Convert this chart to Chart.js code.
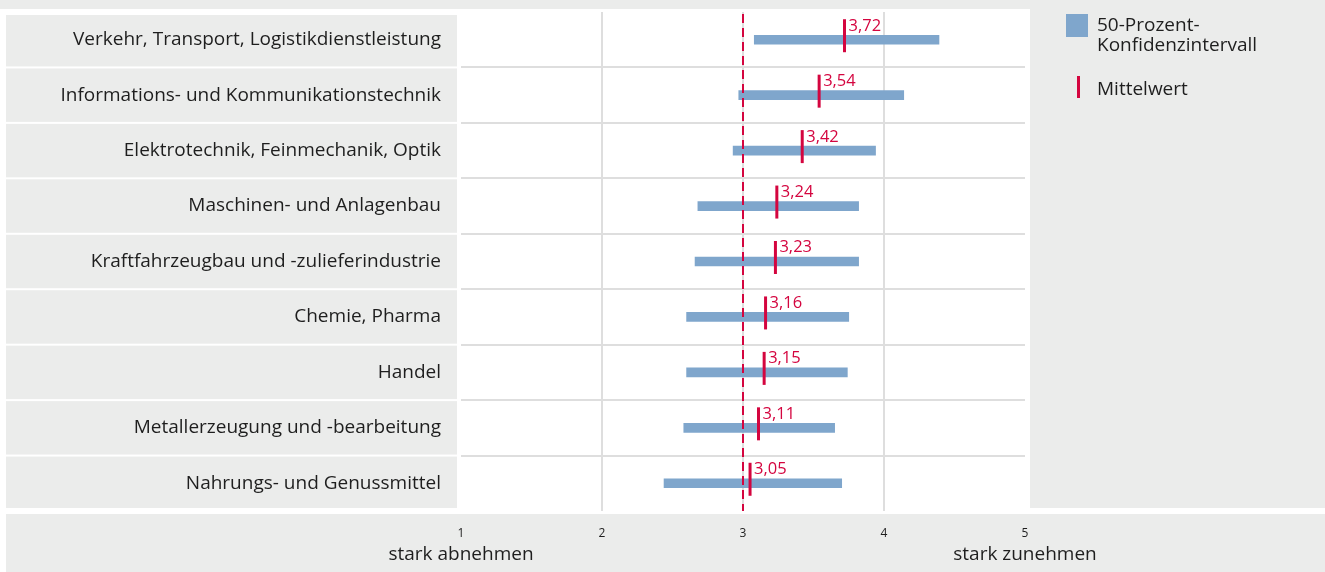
<!DOCTYPE html>
<html>
<head>
<meta charset="utf-8">
<script src="https://cdn.jsdelivr.net/npm/chart.js@4/dist/chart.umd.min.js"></script>
<style>
    html, body { margin: 0; padding: 0; background: #fff; }
    #wrap { position: relative; width: 1325px; height: 572px; font-family: "Open Sans", sans-serif; color: #1e1e1e; }
    #legend { position: absolute; left: 1066px; top: 14px; font-size: 19px; line-height: 20px; }
    .item { position: relative; padding-left: 31px; }
    .box { position: absolute; left: 0; top: 0; width: 22px; height: 23px; background: #7fa6cc; }
    .mean { position: absolute; left: 11px; top: -2px; width: 3px; height: 22px; background: #d4053f; }
</style>
</head>
<body>
<div id="wrap">
    <canvas id="chart" width="1325" height="572"></canvas>
    <div id="legend">
        <div class="item"><span class="box"></span>50-Prozent-<br>Konfidenzintervall</div>
        <div class="item" style="margin-top:24px"><span class="mean"></span>Mittelwert</div>
    </div>
</div>
<script>
const categories = [
    "Verkehr, Transport, Logistikdienstleistung",
    "Informations- und Kommunikationstechnik",
    "Elektrotechnik, Feinmechanik, Optik",
    "Maschinen- und Anlagenbau",
    "Kraftfahrzeugbau und -zulieferindustrie",
    "Chemie, Pharma",
    "Handel",
    "Metallerzeugung und -bearbeitung",
    "Nahrungs- und Genussmittel"
];
const means = [3.72, 3.54, 3.42, 3.24, 3.23, 3.16, 3.15, 3.11, 3.05];
const ciLow = [3.08, 2.97, 2.93, 2.68, 2.66, 2.60, 2.60, 2.58, 2.44];
const ciHigh = [4.39, 4.14, 3.94, 3.82, 3.82, 3.75, 3.74, 3.65, 3.70];
const xTicks = [1, 2, 3, 4, 5];
const endLabels = ["stark abnehmen", "stark zunehmen"];
const midValue = 3;

const RED = "#d4053f";
const GREY = "#ebeceb";

const panels = {
    id: "panels",
    beforeDraw(chart) {
        const ctx = chart.ctx, a = chart.chartArea, y = chart.scales.y;
        const W = chart.width, H = chart.height;
        ctx.save();
        ctx.fillStyle = "#fff";
        ctx.fillRect(0, 0, W, H);
        ctx.fillStyle = GREY;
        ctx.fillRect(0, 0, W, 9);
        ctx.fillRect(a.right + 5, 0, W - a.right - 5, 508);
        ctx.fillRect(6, 514, W - 6, H - 514);
        const rowH = (a.bottom - a.top) / categories.length;
        categories.forEach((c, i) => {
            const mid = y.getPixelForValue(i);
            const top = mid - rowH / 2 + (i === 0 ? 3 : 1);
            const bot = mid + rowH / 2 - (i === categories.length - 1 ? 3 : 1);
            ctx.fillRect(6, top, 451, bot - top);
        });
        ctx.restore();
    }
};

const marks = {
    id: "marks",
    afterDatasetsDraw(chart) {
        const ctx = chart.ctx, a = chart.chartArea;
        const x = chart.scales.x, y = chart.scales.y;
        ctx.save();
        // dashed reference line at the scale middle
        const mx = x.getPixelForValue(midValue);
        ctx.strokeStyle = RED;
        ctx.lineWidth = 2;
        ctx.setLineDash([9, 5]);
        ctx.beginPath();
        ctx.moveTo(mx, a.top + 2);
        ctx.lineTo(mx, a.bottom);
        ctx.stroke();
        ctx.setLineDash([]);

        // mean markers + labels
        ctx.lineWidth = 3;
        ctx.fillStyle = RED;
        ctx.font = '16.5px "Open Sans"';
        ctx.textBaseline = "top";
        ctx.textAlign = "left";
        means.forEach((m, i) => {
            const px = x.getPixelForValue(m);
            const py = y.getPixelForValue(i) - 4;
            ctx.beginPath();
            ctx.moveTo(px, py - 16.5);
            ctx.lineTo(px, py + 16.5);
            ctx.stroke();
            ctx.fillText(m.toFixed(2).replace(".", ","), px + 4, py - 18);
        });
        ctx.restore();
    },
    afterDraw(chart) {
        const ctx = chart.ctx, x = chart.scales.x;
        ctx.save();
        ctx.fillStyle = "#1e1e1e";
        ctx.font = '19px "Open Sans"';
        ctx.textAlign = "center";
        ctx.textBaseline = "alphabetic";
        ctx.fillText(endLabels[0], x.getPixelForValue(xTicks[0]), 560);
        ctx.fillText(endLabels[1], x.getPixelForValue(xTicks[xTicks.length - 1]), 560);
        ctx.restore();
    }
};

new Chart(
    document.getElementById("chart"),
    {
        type: "bar",
        data: {
            labels: categories,
            datasets: [{
                label: "50-Prozent-Konfidenzintervall",
                data: ciLow.map((lo, i) => [lo, ciHigh[i]]),
                backgroundColor: "#7fa6cc",
                barThickness: 9,
                grouped: false
            }]
        },
        options: {
            indexAxis: "y",
            responsive: false,
            animation: false,
            events: [],
            layout: { padding: { left: 7, right: 300, top: 12, bottom: 0 } },
            plugins: { legend: { display: false }, tooltip: { enabled: false } },
            scales: {
                x: {
                    min: xTicks[0],
                    max: xTicks[xTicks.length - 1],
                    afterBuildTicks: s => { s.ticks = xTicks.map(v => ({ value: v })); },
                    afterFit: s => {
                        s.height = 61;
                        s.paddingLeft = 0;
                        s.paddingRight = 0;
                    },
                    border: { display: false },
                    grid: {
                        drawTicks: false,
                        lineWidth: 2,
                        color: c => (c.tick && c.tick.value > xTicks[0] && c.tick.value < xTicks[xTicks.length - 1]) ? "#dedede" : "rgba(0,0,0,0)"
                    },
                    ticks: {
                        padding: 15,
                        color: "#1e1e1e",
                        font: { family: "Open Sans", size: 12 }
                    }
                },
                y: {
                    afterFit: s => {
                        s.width = 454;
                        s.paddingTop = 0;
                        s.paddingBottom = 0;
                    },
                    border: { display: false },
                    grid: {
                        drawTicks: false,
                        lineWidth: 2,
                        color: c => (c.index > 0 && c.index < categories.length) ? "#dedede" : "rgba(0,0,0,0)"
                    },
                    ticks: {
                        padding: 20,
                        color: "#1e1e1e",
                        font: { family: "Open Sans", size: 19 }
                    }
                }
            }
        },
        plugins: [panels, marks]
    }
);
</script>
</body>
</html>
